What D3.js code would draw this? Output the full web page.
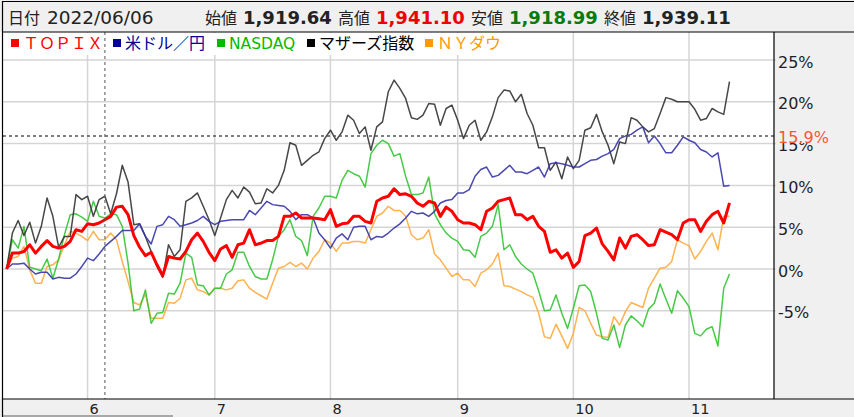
<!DOCTYPE html>
<html><head><meta charset="utf-8">
<script src="https://cdn.jsdelivr.net/npm/d3@7"></script>
<style>html,body{margin:0;padding:0;background:#fff;overflow:hidden}</style>
</head><body>
<svg id="c" width="854" height="417"></svg>
<script>
// ---------------- data ----------------
const seriesNames = ["ＴＯＰＩＸ", "米ドル／円", "NASDAQ", "マザーズ指数", "ＮＹダウ"];
const topix = [0,1.9,1.9,2.1,2.9,1.9,2.7,3.4,2.7,2.5,2.7,3.3,4.7,4.5,5.4,5.3,5.5,5.9,6.3,7.4,
  7.5,6.5,4.0,2.6,1.6,2.0,0.5,-0.8,1.5,1.3,1.2,2.1,3.5,4.3,3.3,2.0,1.0,2.4,2.8,1.4,
  2.9,3.1,4.7,2.9,3.1,3.4,3.4,3.9,6.3,6.3,6.7,6.1,6.1,6.1,6.0,5.9,7.1,5.1,5.4,5.5,
  6.3,6.3,5.7,5.5,8.1,8.5,8.7,9.6,8.9,9.0,8.7,7.9,7.5,8.1,7.9,6.3,7.4,6.9,5.9,5.5,
  5.5,5.3,4.7,6.9,7.3,8.1,8.3,8.5,6.5,6.5,5.9,6.3,5.1,4.5,2.0,2.3,1.3,1.9,0.2,0.9,
  4.0,4.3,4.9,3.0,2.1,1.1,3.7,2.5,3.9,4.1,3.5,2.8,2.9,4.7,4.4,4.1,3.5,5.5,5.9,5.9,
  4.5,5.7,6.5,6.9,5.5,7.9];
const usdjpy = [0,0.6,0.6,0.7,0.0,-0.6,-0.4,-0.4,-1.2,-1.0,-1.1,-1.1,-0.6,0.3,1.3,1.0,1.8,2.7,3.3,3.9,
  4.6,4.6,4.6,5.4,3.9,3.0,5.1,5.3,6.3,5.9,5.1,5.3,5.5,5.8,6.3,5.7,5.3,5.7,5.8,5.9,
  5.9,5.9,7.0,6.5,7.3,8.1,7.7,7.6,7.5,6.9,5.9,6.5,6.5,6.1,4.3,3.5,2.5,3.7,4.2,3.5,
  5.0,5.1,5.1,3.5,3.9,3.8,4.3,4.9,5.4,6.1,6.9,6.6,6.7,6.3,6.9,7.9,8.2,8.3,9.1,9.1,
  9.5,11.1,11.9,12.2,11.0,11.2,11.8,12.4,11.6,11.6,11.4,11.8,12.2,11.0,12.6,12.7,12.6,12.4,12.2,12.2,
  12.6,13.0,13.1,13.5,13.8,14.3,15.6,15.9,16.1,16.6,17.0,15.1,15.9,15.0,13.9,13.9,14.8,15.8,15.4,15.1,
  14.3,14.0,13.4,13.9,9.9,10.0];
const nasdaq = [0,3.5,2.5,5.1,0.2,0.0,-0.2,1.2,-1.1,1.2,4.1,6.5,6.6,6.2,5.7,8.1,6.3,6.1,6.6,6.5,
  5.1,0.7,-5.0,-4.8,-2.5,-6.5,-5.3,-5.2,-2.9,-3.0,-1.7,1.9,1.4,-1.9,-2.0,-3.1,-2.3,-2.3,-0.6,-0.1,
  2.0,2.0,0.3,-0.9,-1.2,-1.2,1.1,3.9,4.7,5.9,3.9,3.4,1.6,6.3,7.3,8.7,8.7,8.5,10.6,11.8,
  11.4,11.1,9.8,13.8,14.8,15.4,15.0,13.5,13.8,11.1,8.9,8.9,9.1,11.0,6.6,5.3,4.3,3.7,3.3,2.3,
  2.2,1.4,3.9,4.3,5.1,7.7,2.3,2.9,1.5,0.6,0.0,-0.5,-2.6,-5.0,-4.9,-3.1,-5.3,-7.1,-4.7,-2.0,
  -1.9,-2.7,-5.3,-8.3,-8.5,-6.7,-9.4,-6.7,-5.6,-6.2,-6.9,-4.8,-4.1,-1.8,-3.6,-5.3,-2.6,-3.5,-4.5,-7.7,
  -8.0,-7.2,-6.9,-9.2,-2.3,-0.6];
const mothers = [0,4.3,5.8,4.0,5.6,3.1,5.1,8.5,6.3,2.6,3.9,3.9,8.9,8.3,8.7,6.3,8.3,8.7,6.6,9.0,
  12.4,10.4,5.3,5.4,3.9,2.1,0.3,-1.0,2.9,1.5,2.3,8.1,8.5,9.1,7.5,5.9,4.0,6.1,8.3,9.4,
  8.5,9.8,9.2,7.8,7.9,9.6,9.1,10.0,11.8,15.1,14.8,12.4,13.0,13.6,14.0,15.6,16.6,15.4,16.4,18.4,
  17.8,16.2,17.0,14.2,17.0,17.6,21.2,22.6,21.6,20.4,18.1,17.9,18.4,19.8,19.7,17.2,19.2,19.6,17.8,15.6,
  17.2,17.8,15.4,16.4,18.2,20.5,21.4,21.3,20.0,20.9,18.6,17.2,14.5,14.5,11.8,12.8,10.8,13.4,12.0,13.0,
  16.6,16.9,18.5,16.4,14.8,12.6,15.2,15.0,18.1,17.8,17.0,16.4,16.8,18.6,20.5,20.3,20.0,20.0,20.0,19.1,
  17.8,18.0,19.2,18.8,18.5,22.4];
const nydow = [0,1.3,1.5,2.7,-0.1,-1.7,-1.7,0.3,0.5,1.1,2.9,4.5,4.3,3.9,3.4,4.5,3.5,3.5,4.3,3.5,
  0.9,-1.5,-4.0,-4.3,-3.0,-5.9,-5.9,-5.9,-4.0,-4.1,-3.5,-1.3,-1.1,-2.5,-2.7,-3.1,-2.3,-2.3,-2.5,-2.3,
  -1.4,-1.3,-2.3,-2.8,-3.2,-3.6,-1.7,0.1,0.3,0.8,0.3,0.7,0.0,1.3,2.1,3.5,3.1,2.1,3.1,3.1,
  3.3,3.3,3.1,4.7,6.3,6.7,7.5,7.0,7.0,6.3,4.1,3.5,3.7,4.7,1.8,1.1,0.1,-0.9,-0.5,-1.3,
  -1.3,-2.1,-0.5,-0.1,0.6,1.9,-2.0,-2.1,-2.4,-2.7,-3.1,-3.4,-5.3,-8.1,-8.3,-6.6,-8.0,-9.5,-7.7,-4.6,
  -5.0,-6.5,-7.9,-8.1,-8.2,-5.7,-6.7,-5.1,-4.0,-4.3,-4.6,-2.3,-1.1,0.1,0.2,0.9,3.5,3.1,2.8,1.2,
  2.1,3.3,4.3,2.3,6.3,6.3];
const monthTickIndex = [14, 36, 56, 78, 98, 118];
const monthTickLabels = ["6", "7", "8", "9", "10", "11"];
const yTicks = [-5, 0, 5, 10, 15, 20, 25];
const cursorIndex = 17;
const cursorValue = 15.9;
const headerDateLabel = "日付";
const headerDate = "2022/06/06";
const ohlcLabels = ["始値", "高値", "安値", "終値"];
const ohlcValues = ["1,919.64", "1,941.10", "1,918.99", "1,939.11"];

// ---------------- layout / style ----------------
const W = 854, H = 417;
const L = 3, R = 774, T = 32, B = 399;
const lineColors = ["#ff0000", "#3535a8", "#33c433", "#333333", "#ffaa3c"];
const legendColors = ["#ff0000", "#00009a", "#00bb00", "#000000", "#ff9900"];
const lineWidths = [3, 1.5, 1.5, 1.5, 1.5];
const series = [topix, usdjpy, nasdaq, mothers, nydow];
const drawOrder = [4, 2, 3, 1, 0];
const latin = "'DejaVu Sans', 'Noto Sans CJK JP', sans-serif";
const cjk = "'Noto Sans CJK JP', sans-serif";

const svg = d3.select("#c");
const x = d3.scaleLinear().domain([0, topix.length - 1]).range([6.6, 729.5]);
const y = d3.scaleLinear().domain([-5, 25]).range([310.8, 60.0]);

// backgrounds
svg.append("rect").attr("x", 0).attr("y", 0).attr("width", W).attr("height", H).attr("fill", "#ffffff");
svg.append("rect").attr("x", 0).attr("y", 0).attr("width", W).attr("height", T).attr("fill", "#f0f0f0");
svg.append("rect").attr("x", R).attr("y", T).attr("width", W - R).attr("height", B - T).attr("fill", "#f0f0f0");
svg.append("rect").attr("x", 0).attr("y", B).attr("width", W).attr("height", H - B).attr("fill", "#f0f0f0");

// gridlines
svg.append("g").selectAll("line").data(yTicks).join("line")
  .attr("x1", L).attr("x2", R + 2)
  .attr("y1", d => y(d)).attr("y2", d => y(d))
  .attr("stroke", "#d5d5d5").attr("stroke-width", 1.5);
svg.append("g").selectAll("line").data(monthTickIndex).join("line")
  .attr("x1", d => x(d)).attr("x2", d => x(d))
  .attr("y1", T).attr("y2", B)
  .attr("stroke", "#d5d5d5").attr("stroke-width", 1.5);

// legend background
svg.append("rect").attr("x", L + 1).attr("y", T + 1).attr("width", 505).attr("height", 22).attr("fill", "#ffffff");

// lines
const line = d3.line().x((d, i) => x(i)).y(d => y(d));
const gLines = svg.append("g");
drawOrder.forEach(k => {
  gLines.append("path").datum(series[k])
    .attr("d", line)
    .attr("fill", "none")
    .attr("stroke", lineColors[k])
    .attr("stroke-width", lineWidths[k])
    .attr("stroke-linejoin", "round")
    .attr("opacity", k === 0 ? 1 : 0.9);
});

// crosshair
svg.append("line").attr("x1", x(cursorIndex)).attr("x2", x(cursorIndex)).attr("y1", T).attr("y2", B)
  .attr("stroke", "#555").attr("stroke-width", 1).attr("stroke-dasharray", "3,3");
svg.append("line").attr("x1", L).attr("x2", R).attr("y1", y(cursorValue)).attr("y2", y(cursorValue))
  .attr("stroke", "#555").attr("stroke-width", 1.5).attr("stroke-dasharray", "3,3");

// legend
const legendX = [11, 113, 217, 307, 425];
const gLeg = svg.append("g");
seriesNames.forEach((n, k) => {
  gLeg.append("rect").attr("x", legendX[k]).attr("y", 39).attr("width", 8).attr("height", 8).attr("fill", legendColors[k]);
  gLeg.append("text").attr("x", legendX[k] + 12).attr("y", 49)
    .attr("font-family", k === 2 ? latin : cjk).attr("font-size", k === 2 ? 15.5 : 16)
    .attr("fill", legendColors[k]).text(n);
});

// right axis labels
svg.append("g").selectAll("text").data(yTicks).join("text")
  .attr("x", 778).attr("y", d => y(d) + 7.5)
  .attr("font-family", latin).attr("font-size", 16).attr("fill", "#1e1e2e")
  .text(d => d + "%");
svg.append("rect").attr("x", 776).attr("y", y(cursorValue) - 9).attr("width", 76).attr("height", 16).attr("fill", "#f0f0f0");
svg.append("text").attr("x", 778).attr("y", y(cursorValue) + 6.5)
  .attr("font-family", latin).attr("font-size", 16).attr("fill", "#ff5533")
  .text(cursorValue.toFixed(1) + "%");

// bottom axis labels
svg.append("g").selectAll("text").data(monthTickIndex).join("text")
  .attr("x", d => x(d) + 2).attr("y", 413.5)
  .attr("font-family", latin).attr("font-size", 14.5).attr("fill", "#222")
  .text((d, i) => monthTickLabels[i]);
svg.append("rect").attr("x", L).attr("y", 415).attr("width", 170).attr("height", 2).attr("fill", "#a8a8a8");

// header texts
const hdr = svg.append("g");
hdr.append("text").attr("x", 8).attr("y", 24).attr("font-family", cjk).attr("font-size", 16).attr("fill", "#222").text(headerDateLabel);
hdr.append("text").attr("x", 47).attr("y", 24).attr("font-family", latin).attr("font-size", 18.5).attr("fill", "#222").text(headerDate);
const ohlcX = [205, 338, 471, 604];
const ohlcColors = ["#222", "#ee0000", "#0a7a0a", "#222"];
ohlcLabels.forEach((lab, k) => {
  hdr.append("text").attr("x", ohlcX[k]).attr("y", 24).attr("font-family", cjk).attr("font-size", 16).attr("fill", "#222").text(lab);
  hdr.append("text").attr("x", ohlcX[k] + 38).attr("y", 24).attr("font-family", latin).attr("font-weight", "bold")
    .attr("font-size", 18).attr("fill", ohlcColors[k]).text(ohlcValues[k]);
});

// borders
const border = (x1, y1, x2, y2) => svg.append("line").attr("x1", x1).attr("y1", y1).attr("x2", x2).attr("y2", y2)
  .attr("stroke", "#000").attr("stroke-width", 1.2);
border(L - 0.5, 1.5, W, 1.5);
border(L - 0.5, T, W, T);
border(L - 0.5, 1, L - 0.5, H);
border(R, T, R, B);
border(L - 0.5, B, W, B);
</script>
</body></html>
